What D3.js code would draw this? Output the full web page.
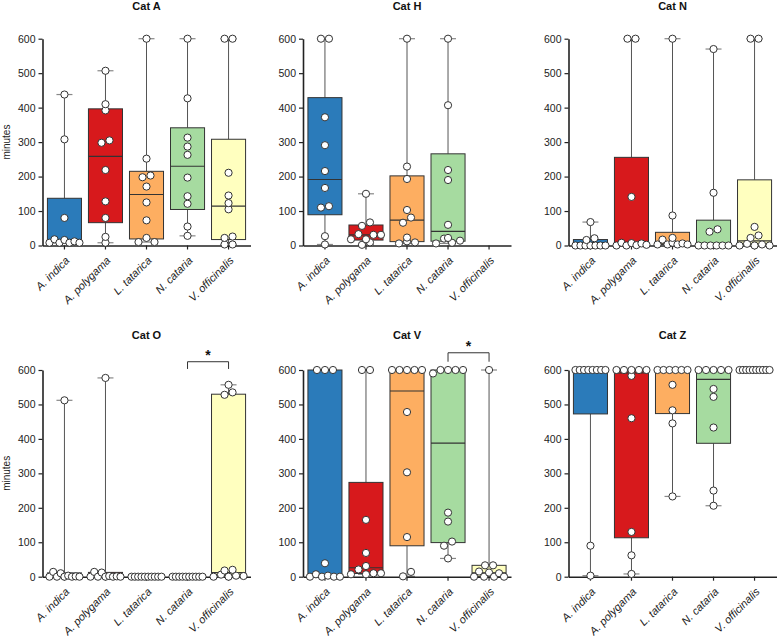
<!DOCTYPE html>
<html><head><meta charset="utf-8">
<script src="https://cdn.jsdelivr.net/npm/d3@7"></script>
<style>
body{margin:0;background:#fff;}
svg{display:block;font-family:"Liberation Sans",Arial,Helvetica,sans-serif;}
</style>
</head><body>
<svg id="chart" width="777" height="636"></svg>
<script>
// ---------------- DATA ----------------
const plants = ["A. indica", "A. polygama", "L. tatarica", "N. cataria", "V. officinalis"];
const plantColors = ["#2b7bba", "#d7191c", "#fdae61", "#a6dba0", "#ffffbf"];
const yTicks = [0, 100, 200, 300, 400, 500, 600];
const yLabel = "minutes";

const catA = [
  [438, 308, 80, 18, 16, 12, 8, 8, 8, 8],
  [507, 410, 392, 305, 298, 219, 128, 80, 25, 8],
  [600, 252, 203, 198, 171, 125, 73, 22, 10, 10],
  [600, 427, 313, 287, 263, 197, 143, 121, 55, 28],
  [600, 600, 211, 145, 123, 105, 26, 22, 3, 3]
];
const catH = [
  [600, 600, 372, 291, 216, 167, 114, 110, 27, 3],
  [150, 67, 57, 33, 31, 31, 18, 18, 9, 2],
  [600, 229, 193, 103, 81, 66, 23, 12, 9, 6],
  [600, 407, 219, 190, 60, 22, 20, 14, 8, 6],
  []
];
const catN = [
  [68, 21, 16, 0, 0, 0, 0, 0, 0, 0],
  [600, 600, 141, 8, 7, 6, 2, 1, 0, 0],
  [600, 87, 22, 17, 8, 6, 3, 3, 3, 3],
  [570, 153, 47, 40, 0, 0, 0, 0, 0, 0],
  [600, 600, 54, 29, 22, 5, 3, 0, 0, 0]
];
const catO = [
  [512, 14, 10, 3, 1, 0, 0, 0, 0, 0],
  [577, 14, 12, 2, 1, 0, 0, 0, 0, 0],
  [0, 0, 0, 0, 0, 0, 0, 0, 0, 0],
  [0, 0, 0, 0, 0, 0, 0, 0, 0, 0],
  [557, 535, 528, 20, 18, 6, 3, 2, 0, 0]
];
const catV = [
  [600, 600, 600, 39, 7, 3, 0, 0, 0, 0],
  [600, 600, 165, 69, 31, 21, 10, 10, 7, 7],
  [600, 600, 600, 600, 600, 478, 303, 115, 14, 1],
  [600, 600, 600, 600, 590, 186, 160, 102, 90, 53],
  [600, 33, 33, 15, 12, 10, 0, 0, 0, 0]
];
const catZ = [
  [600, 600, 600, 600, 600, 600, 600, 600, 90, 3],
  [600, 600, 600, 600, 600, 583, 460, 130, 62, 8],
  [600, 600, 600, 600, 600, 600, 557, 483, 445, 233],
  [600, 600, 600, 600, 600, 545, 522, 433, 250, 206],
  [600, 600, 600, 600, 600, 600, 600, 600, 600, 600]
];
const panelTitles = ["Cat A", "Cat H", "Cat N", "Cat O", "Cat V", "Cat Z"];
const panelData = [catA, catH, catN, catO, catV, catZ];
// significance brackets (value levels in minutes)
const sigPanels = ["Cat O", "Cat V"];
const sigFrom = ["N. cataria", "N. cataria"];
const sigTo = ["V. officinalis", "V. officinalis"];
const sigLow = [603, 624];
const sigHigh = [624, 650];
const sigLabel = ["*", "*"];

// ---------------- LAYOUT ----------------
const colAxisX = [42.5, 303, 568.5];
const plotW = 208;
const rowY = [{top: 38.7, bottom: 245.5}, {top: 370, bottom: 576.7}];
const titleY = [10, 339];

const svg = d3.select("#chart");

function prismQ(s, p) {
  const n = s.length;
  const pos = (n + 1) * p;
  if (pos <= 1) return s[0];
  if (pos >= n) return s[n - 1];
  const lo = Math.floor(pos);
  return s[lo - 1] + (pos - lo) * (s[lo] - s[lo - 1]);
}

function swarm(vals, y) {
  // group points whose pixel heights overlap into rows, spread them horizontally
  const pts = vals.map(v => ({v, py: y(v)})).sort((a, b) => a.v - b.v);
  const out = [];
  let i = 0;
  while (i < pts.length) {
    const start = pts[i].py;
    const cl = [];
    while (i < pts.length && Math.abs(pts[i].py - start) < 5.5) { cl.push(pts[i]); i++; }
    const n = cl.length;
    const s = n > 1 ? Math.min(8, 30 / (n - 1)) : 0;
    const nLow = Math.ceil(n / 2);
    const lows = cl.slice(0, nLow), highs = cl.slice(nLow).reverse();
    for (let k = 0; k < n; k++) {
      const p = (k % 2 === 0) ? lows[k / 2] : highs[(k - 1) / 2];
      p.dx = (k - (n - 1) / 2) * s;
      out.push(p);
    }
  }
  return out;
}

panelData.forEach((groups, pi) => {
  const col = pi % 3, row = Math.floor(pi / 3);
  const ax = colAxisX[col];
  const {top, bottom} = rowY[row];
  const x = d3.scaleBand().domain(plants).range([ax, ax + plotW]).paddingInner(0.17).paddingOuter(0.12);
  const y = d3.scaleLinear().domain([0, 600]).range([bottom, top]);
  const bw = x.bandwidth();
  const g = svg.append("g");

  // title
  g.append("text").attr("x", ax + plotW / 2).attr("y", titleY[row])
    .attr("text-anchor", "middle").attr("font-weight", "bold").attr("font-size", "11px")
    .attr("fill", "#111").text(panelTitles[pi]);

  // y label
  if (col === 0) {
    g.append("text").attr("transform", `translate(10,${(top + bottom) / 2}) rotate(-90)`)
      .attr("text-anchor", "middle").attr("font-size", "10px").attr("fill", "#222").text(yLabel);
  }

  // boxes
  groups.forEach((vals, gi) => {
    if (!vals.length) return;
    const s = vals.slice().sort((a, b) => a - b);
    const mn = s[0], mx = s[s.length - 1];
    const q1 = prismQ(s, 0.25), q2 = prismQ(s, 0.5), q3 = prismQ(s, 0.75);
    const cx = x(plants[gi]) + bw / 2;
    const gg = g.append("g");
    if (mx > q3) {
      gg.append("line").attr("x1", cx).attr("x2", cx).attr("y1", y(q3)).attr("y2", y(mx))
        .attr("stroke", "#555").attr("stroke-width", 1);
      gg.append("line").attr("x1", cx - 8).attr("x2", cx + 8).attr("y1", y(mx)).attr("y2", y(mx))
        .attr("stroke", "#888").attr("stroke-width", 1.2);
    }
    if (mn < q1) {
      gg.append("line").attr("x1", cx).attr("x2", cx).attr("y1", y(q1)).attr("y2", y(mn))
        .attr("stroke", "#555").attr("stroke-width", 1);
      gg.append("line").attr("x1", cx - 8).attr("x2", cx + 8).attr("y1", y(mn)).attr("y2", y(mn))
        .attr("stroke", "#888").attr("stroke-width", 1.2);
    }
    if (q3 > q1) {
      gg.append("rect").attr("x", x(plants[gi])).attr("width", bw)
        .attr("y", y(q3)).attr("height", y(q1) - y(q3))
        .attr("fill", plantColors[gi]).attr("stroke", "#333").attr("stroke-width", 1);
      gg.append("line").attr("x1", x(plants[gi])).attr("x2", x(plants[gi]) + bw)
        .attr("y1", y(q2)).attr("y2", y(q2)).attr("stroke", "#333").attr("stroke-width", 1.2);
    }
  });

  // axes
  const yAxis = g.append("g").attr("transform", `translate(${ax},0)`)
    .call(d3.axisLeft(y).tickValues(yTicks).tickSize(4).tickSizeOuter(0).tickPadding(3));
  const xAxis = g.append("g").attr("transform", `translate(0,${bottom})`)
    .call(d3.axisBottom(x).tickSize(4).tickSizeOuter(0));
  [yAxis, xAxis].forEach(a => {
    a.select(".domain").attr("stroke", "#222").attr("stroke-width", 1.6);
    a.selectAll(".tick line").attr("stroke", "#222").attr("stroke-width", 1.2);
    a.selectAll(".tick text").attr("fill", "#222").attr("font-size", "10.5px")
      .attr("font-family", "\"Liberation Sans\",Arial,sans-serif");
  });
  xAxis.selectAll(".tick text")
    .attr("x", 0).attr("y", 0).attr("dy", "0.35em")
    .attr("text-anchor", "end").attr("font-style", "italic").attr("font-size", "11px")
    .attr("transform", "translate(3,13) rotate(-45)");

  // points
  groups.forEach((vals, gi) => {
    if (!vals.length) return;
    const cx = x(plants[gi]) + bw / 2;
    g.append("g").selectAll("circle").data(swarm(vals, y)).join("circle")
      .attr("cx", d => cx + d.dx).attr("cy", d => d.py).attr("r", 3.6)
      .attr("fill", "#fff").attr("stroke", "#333").attr("stroke-width", 1);
  });

  // significance
  sigPanels.forEach((p, si) => {
    if (p !== panelTitles[pi]) return;
    const x1 = x(sigFrom[si]) + bw / 2, x2 = x(sigTo[si]) + bw / 2;
    g.append("path")
      .attr("d", `M${x1},${y(sigLow[si])}V${y(sigHigh[si])}H${x2}V${y(sigLow[si])}`)
      .attr("fill", "none").attr("stroke", "#333").attr("stroke-width", 1);
    g.append("text").attr("x", (x1 + x2) / 2).attr("y", y(sigHigh[si]) - 2)
      .attr("text-anchor", "middle").attr("font-weight", "bold").attr("font-size", "14px")
      .attr("fill", "#111").text(sigLabel[si]);
  });
});
</script>
</body></html>
